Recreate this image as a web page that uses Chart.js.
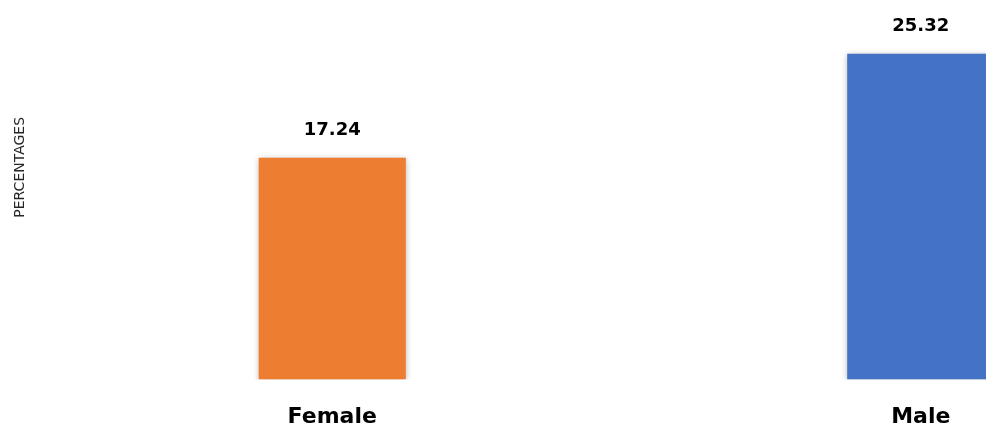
<!DOCTYPE html>
<html>
<head>
<meta charset="utf-8">
<script src="https://cdn.jsdelivr.net/npm/chart.js@4"></script>
<style>
  html, body { margin: 0; padding: 0; background: #fff; overflow: hidden; width: 986px; height: 425px; }
  #wrap { position: absolute; left: 0; top: -60px; width: 1230px; height: 520px; }
</style>
</head>
<body>
<div id="wrap"><canvas id="chart"></canvas></div>
<script>
const categories = ['Female', 'Male'];
const percentages = [17.24, 25.32];
const barColors = ['#ED7D31', '#4472C4'];

const FONT = 'DejaVu Sans';

// 値ラベルと影
const barLabels = {
  id: 'barLabels',
  beforeDatasetsDraw(chart) {
    const ctx = chart.ctx;
    ctx.save();
    ctx.shadowColor = 'rgba(0,0,0,0.28)';
    ctx.shadowBlur = 6;
    ctx.shadowOffsetX = 0;
    ctx.shadowOffsetY = 1;
  },
  afterDatasetsDraw(chart) {
    const ctx = chart.ctx;
    ctx.restore();
    ctx.save();
    ctx.font = 'bold 18px "' + FONT + '"';
    ctx.fillStyle = '#000';
    ctx.textAlign = 'center';
    ctx.textBaseline = 'middle';
    const meta = chart.getDatasetMeta(0);
    meta.data.forEach((bar, i) => {
      ctx.fillText(percentages[i].toFixed(2), bar.x, bar.y - 27);
    });
    ctx.restore();
  }
};

new Chart(document.getElementById('chart'), {
  type: 'bar',
  data: {
    labels: categories,
    datasets: [{
      data: percentages,
      backgroundColor: barColors,
      borderWidth: 0,
      categoryPercentage: 1,
      barPercentage: 0.25
    }]
  },
  options: {
    responsive: true,
    maintainAspectRatio: false,
    animation: false,
    layout: { padding: { top: 15, left: 8, right: 15, bottom: 6 } },
    plugins: { legend: { display: false }, tooltip: { enabled: false } },
    scales: {
      x: {
        grid: { display: false, drawTicks: false },
        border: { display: false },
        ticks: { color: '#000', padding: 24, font: { family: FONT, size: 22, weight: 'bold' } }
      },
      y: {
        min: 0,
        max: 33,
        grid: { display: false, drawTicks: false },
        border: { display: false },
        ticks: { display: false },
        title: {
          display: true,
          text: 'PERCENTAGES',
          color: '#262626',
          padding: { top: 4, bottom: 0 },
          font: { family: FONT, size: 14 }
        },
        afterFit(scale) { scale.width = 30; }
      }
    }
  },
  plugins: [barLabels]
});
</script>
</body>
</html>
